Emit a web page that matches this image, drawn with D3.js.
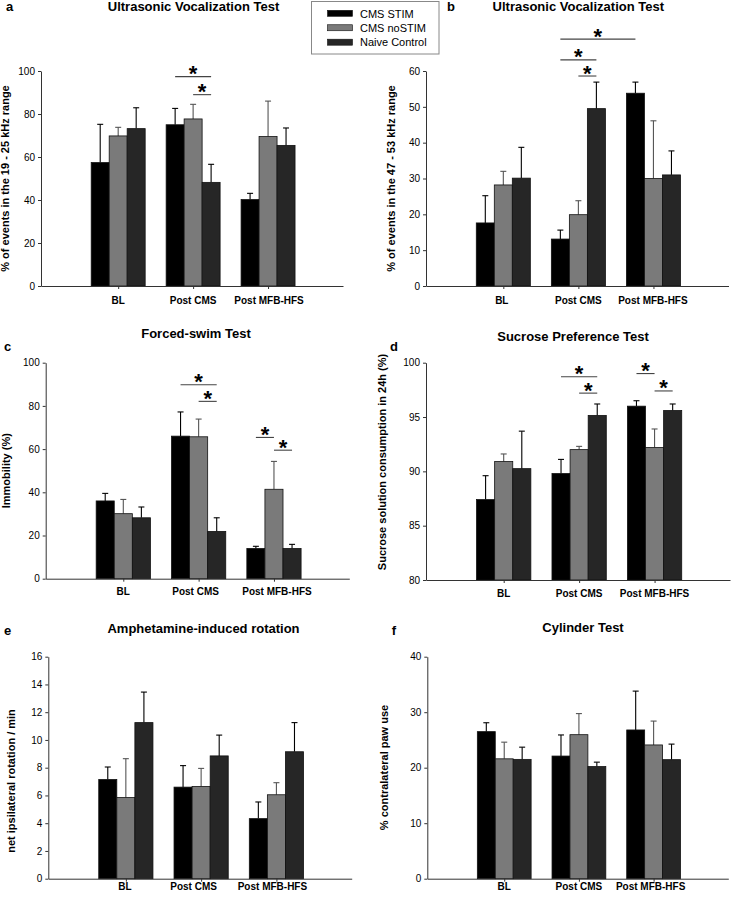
<!DOCTYPE html>
<html>
<head>
<meta charset="utf-8">
<script src="https://cdn.jsdelivr.net/npm/d3@7"></script>
<style>
  html, body { margin: 0; padding: 0; background: #fff; }
  svg { display: block; }
</style>
</head>
<body>
<svg id="chart" width="738" height="898"></svg>
<script>
// ---------------- DATA ----------------
const categories = ["BL", "Post CMS", "Post MFB-HFS"];
const seriesNames = ["CMS STIM", "CMS noSTIM", "Naive Control"];

// Panel a: Ultrasonic Vocalization Test (19 - 25 kHz)  rows = series, cols = categories
const aMeans = [[57.4, 75.0, 40.2], [69.8, 77.7, 69.5], [73.2, 48.2, 65.4]];
const aErrs  = [[17.8, 7.6, 2.9],   [4.0, 6.8, 16.5],   [9.7, 8.4, 8.1]];
const aTicks = [0, 20, 40, 60, 80, 100];
const aSig   = [[1, 0, 1, 2, 97.4], [1, 1, 1, 2, 89.0]];

// Panel b: Ultrasonic Vocalization Test (47 - 53 kHz)
const bMeans = [[17.6, 13.1, 53.8], [28.2, 19.9, 30.0], [30.1, 49.5, 31.0]];
const bErrs  = [[7.6, 2.5, 3.1],    [3.8, 3.9, 16.1],   [8.6, 7.4, 6.7]];
const bTicks = [0, 10, 20, 30, 40, 50, 60];
const bSig   = [[1, 0, 2, 0, 68.9], [1, 0, 1, 2, 63.1], [1, 1, 1, 2, 58.6]];

// Panel c: Forced-swim Test
const cMeans = [[36.0, 66.0, 14.0], [30.1, 65.7, 41.4], [28.2, 21.9, 14.0]];
const cErrs  = [[3.5, 11.2, 1.0],   [6.6, 8.2, 12.9],   [5.0, 6.3, 1.9]];
const cTicks = [0, 20, 40, 60, 80, 100];
const cSig   = [[1, 0, 1, 2, 89.8], [1, 1, 1, 2, 82.1], [2, 0, 2, 1, 65.4], [2, 1, 2, 2, 59.5]];

// Panel d: Sucrose Preference Test
const dMeans = [[87.4, 89.8, 96.0], [90.9, 92.0, 92.2], [90.25, 95.15, 95.6]];
const dErrs  = [[2.2, 1.3, 0.5],    [0.7, 0.3, 1.7],    [3.45, 1.05, 0.6]];
const dTicks = [80, 85, 90, 95, 100];
const dSig   = [[1, 0, 1, 2, 98.7], [1, 1, 1, 2, 97.2], [2, 0, 2, 1, 99.0], [2, 1, 2, 2, 97.4]];

// Panel e: Amphetamine-induced rotation
const eMeans = [[7.15, 6.6, 4.33], [5.85, 6.65, 6.05], [11.25, 8.85, 9.15]];
const eErrs  = [[0.9, 1.55, 1.2],  [2.8, 1.3, 0.87],   [2.2, 1.5, 2.1]];
const eTicks = [0, 2, 4, 6, 8, 10, 12, 14, 16];
const eSig   = [];

// Panel f: Cylinder Test
const fMeans = [[26.5, 22.1, 26.8], [21.6, 25.95, 24.1], [21.5, 20.2, 21.45]];
const fErrs  = [[1.6, 3.8, 7.0],    [3.0, 3.8, 4.3],     [2.2, 0.8, 2.8]];
const fTicks = [0, 10, 20, 30, 40];
const fSig   = [];

// ---------------- STYLE / LAYOUT ----------------
const FONT = '"Liberation Sans", Arial, Helvetica, sans-serif';
const fills = ["#000000", "#7a7a7a", "#262626"];
const errColors = ["#000000", "#555555", "#000000"];

const panels = [
  { letter: "a", title: "Ultrasonic Vocalization Test", ylabel: "% of events in the 19 - 25 kHz range",
    means: aMeans, errs: aErrs, ticks: aTicks, sig: aSig, yDomain: [0, 100],
    x0: 41, x1: 343, yTop: 71, yBot: 286, titleX: 193.5, titleY: 11, letterX: 6, letterY: 11,
    ylabX: 9, ylabY: 178.5, xlabDy: 17.5, nudge: [0, 0, 1] },
  { letter: "b", title: "Ultrasonic Vocalization Test", ylabel: "% of events in the 47 - 53 kHz range",
    means: bMeans, errs: bErrs, ticks: bTicks, sig: bSig, yDomain: [0, 60],
    x0: 426, x1: 728.5, yTop: 71, yBot: 286, titleX: 578.3, titleY: 11, letterX: 447, letterY: 11,
    ylabX: 395, ylabY: 178.5, xlabDy: 17.5, nudge: [-1.5, 0, -0.5] },
  { letter: "c", title: "Forced-swim Test", ylabel: "Immobility (%)",
    means: cMeans, errs: cErrs, ticks: cTicks, sig: cSig, yDomain: [0, 100],
    x0: 45.7, x1: 349.3, yTop: 362.7, yBot: 578.7, titleX: 196, titleY: 337.7, letterX: 4, letterY: 351,
    ylabX: 9.5, ylabY: 470.7, xlabDy: 16.5, nudge: [0, -3, 3] },
  { letter: "d", title: "Sucrose Preference Test", ylabel: "Sucrose solution consumption in 24h (%)",
    means: dMeans, errs: dErrs, ticks: dTicks, sig: dSig, yDomain: [80, 100],
    x0: 426, x1: 730, yTop: 362.7, yBot: 580, titleX: 573, titleY: 340.7, letterX: 390, letterY: 351,
    ylabX: 386, ylabY: 462, xlabDy: 16.5, nudge: [0, 0, 0] },
  { letter: "e", title: "Amphetamine-induced rotation", ylabel: "net ipsilateral rotation / min",
    means: eMeans, errs: eErrs, ticks: eTicks, sig: eSig, yDomain: [0, 16],
    x0: 48.3, x1: 351.7, yTop: 656.7, yBot: 878.7, titleX: 203.5, titleY: 632.5, letterX: 4, letterY: 635,
    ylabX: 14.5, ylabY: 781, xlabDy: 11, nudge: [-1, -7.5, -4] },
  { letter: "f", title: "Cylinder Test", ylabel: "% contralateral paw use",
    means: fMeans, errs: fErrs, ticks: fTicks, sig: fSig, yDomain: [0, 40],
    x0: 427.3, x1: 728.3, yTop: 656.7, yBot: 878.7, titleX: 583, titleY: 632, letterX: 391.7, letterY: 635,
    ylabX: 388, ylabY: 767.5, xlabDy: 11, nudge: [0, 0, -3] }
];

// ---------------- DRAW ----------------
const svg = d3.select("#chart");
svg.append("rect").attr("width", 738).attr("height", 898).attr("fill", "#fff");

function drawPanel(p) {
  const g = svg.append("g");
  const x = d3.scaleLinear().domain([-0.03, 4]).range([p.x0, p.x1]);
  const step = x(1) - x(0);
  const bw = step * 0.24;
  const y = d3.scaleLinear().domain(p.yDomain).range([p.yBot, p.yTop]);
  const barCenter = (ci, si) => x(ci + 1) + (si - 1) * bw;

  // bars
  const barData = [];
  p.means.forEach((row, si) => row.forEach((v, ci) => barData.push({ si, ci, v, e: p.errs[si][ci] })));

  // error bars (upper only)
  const eg = g.append("g");
  barData.forEach(d => {
    const cx = barCenter(d.ci, d.si);
    eg.append("line").attr("x1", cx).attr("x2", cx)
      .attr("y1", y(d.v)).attr("y2", y(d.v + d.e))
      .attr("stroke", errColors[d.si]).attr("stroke-width", 1.1);
    eg.append("line").attr("x1", cx - 3).attr("x2", cx + 3)
      .attr("y1", y(d.v + d.e)).attr("y2", y(d.v + d.e))
      .attr("stroke", errColors[d.si]).attr("stroke-width", 1.1);
  });

  g.append("g").selectAll("rect").data(barData).join("rect")
    .attr("x", d => barCenter(d.ci, d.si) - bw / 2)
    .attr("width", bw)
    .attr("y", d => y(d.v))
    .attr("height", d => y(p.yDomain[0]) - y(d.v))
    .attr("fill", d => fills[d.si])
    .attr("stroke", "#111")
    .attr("stroke-width", 0.8);

  // y axis
  const ya = g.append("g").attr("transform", `translate(${p.x0},0)`)
    .call(d3.axisLeft(y).tickValues(p.ticks).tickSize(3).tickSizeOuter(0).tickPadding(3));
  ya.selectAll("path,line").attr("stroke", "#333");
  ya.selectAll("text").attr("font-family", FONT).attr("font-size", 10).attr("fill", "#000");

  // x axis
  const xa = g.append("g").attr("transform", `translate(0,${p.yBot})`)
    .call(d3.axisBottom(x).tickValues([1, 2, 3]).tickSize(3).tickSizeOuter(0).tickFormat(""));
  xa.selectAll("path,line").attr("stroke", "#333");

  // x labels
  g.append("g").selectAll("text").data(categories).join("text")
    .attr("x", (d, i) => x(i + 1) + p.nudge[i])
    .attr("y", p.yBot + p.xlabDy)
    .attr("text-anchor", "middle")
    .attr("font-family", FONT).attr("font-size", 10).attr("font-weight", "bold")
    .text(d => d);

  // title
  g.append("text").attr("x", p.titleX).attr("y", p.titleY)
    .attr("text-anchor", "middle").attr("font-family", FONT)
    .attr("font-size", 13).attr("font-weight", "bold").text(p.title);

  // letter
  g.append("text").attr("x", p.letterX).attr("y", p.letterY)
    .attr("font-family", FONT).attr("font-size", 13).attr("font-weight", "bold").text(p.letter);

  // y label
  g.append("text").attr("transform", `translate(${p.ylabX},${p.ylabY}) rotate(-90)`)
    .attr("text-anchor", "middle").attr("font-family", FONT)
    .attr("font-size", 11).attr("font-weight", "bold").text(p.ylabel);

  // significance
  p.sig.forEach(s => {
    const xa1 = barCenter(s[0], s[1]);
    const xa2 = barCenter(s[2], s[3]);
    const yy = y(s[4]);
    g.append("line").attr("x1", xa1).attr("x2", xa2).attr("y1", yy).attr("y2", yy)
      .attr("stroke", "#444").attr("stroke-width", 1.1);
    g.append("text").attr("x", (xa1 + xa2) / 2).attr("y", yy + 4.5)
      .attr("text-anchor", "middle").attr("font-family", FONT)
      .attr("font-size", 22).attr("font-weight", "bold").text("*");
  });
}

panels.forEach(drawPanel);

// legend
const lg = svg.append("g");
lg.append("rect").attr("x", 311.5).attr("y", 1.5).attr("width", 127.5).attr("height", 52.5)
  .attr("fill", "#fff").attr("stroke", "#888").attr("stroke-width", 1);
const legY = d3.scalePoint().domain(seriesNames).range([13.3, 42.2]);
seriesNames.forEach((s, i) => {
  lg.append("rect").attr("x", 327.5).attr("y", legY(s) - 3).attr("width", 25).attr("height", 6)
    .attr("fill", fills[i]).attr("stroke", "#111").attr("stroke-width", 0.6);
  lg.append("text").attr("x", 360).attr("y", legY(s) + 4.2)
    .attr("font-family", FONT).attr("font-size", 11).text(s);
});
</script>
</body>
</html>
